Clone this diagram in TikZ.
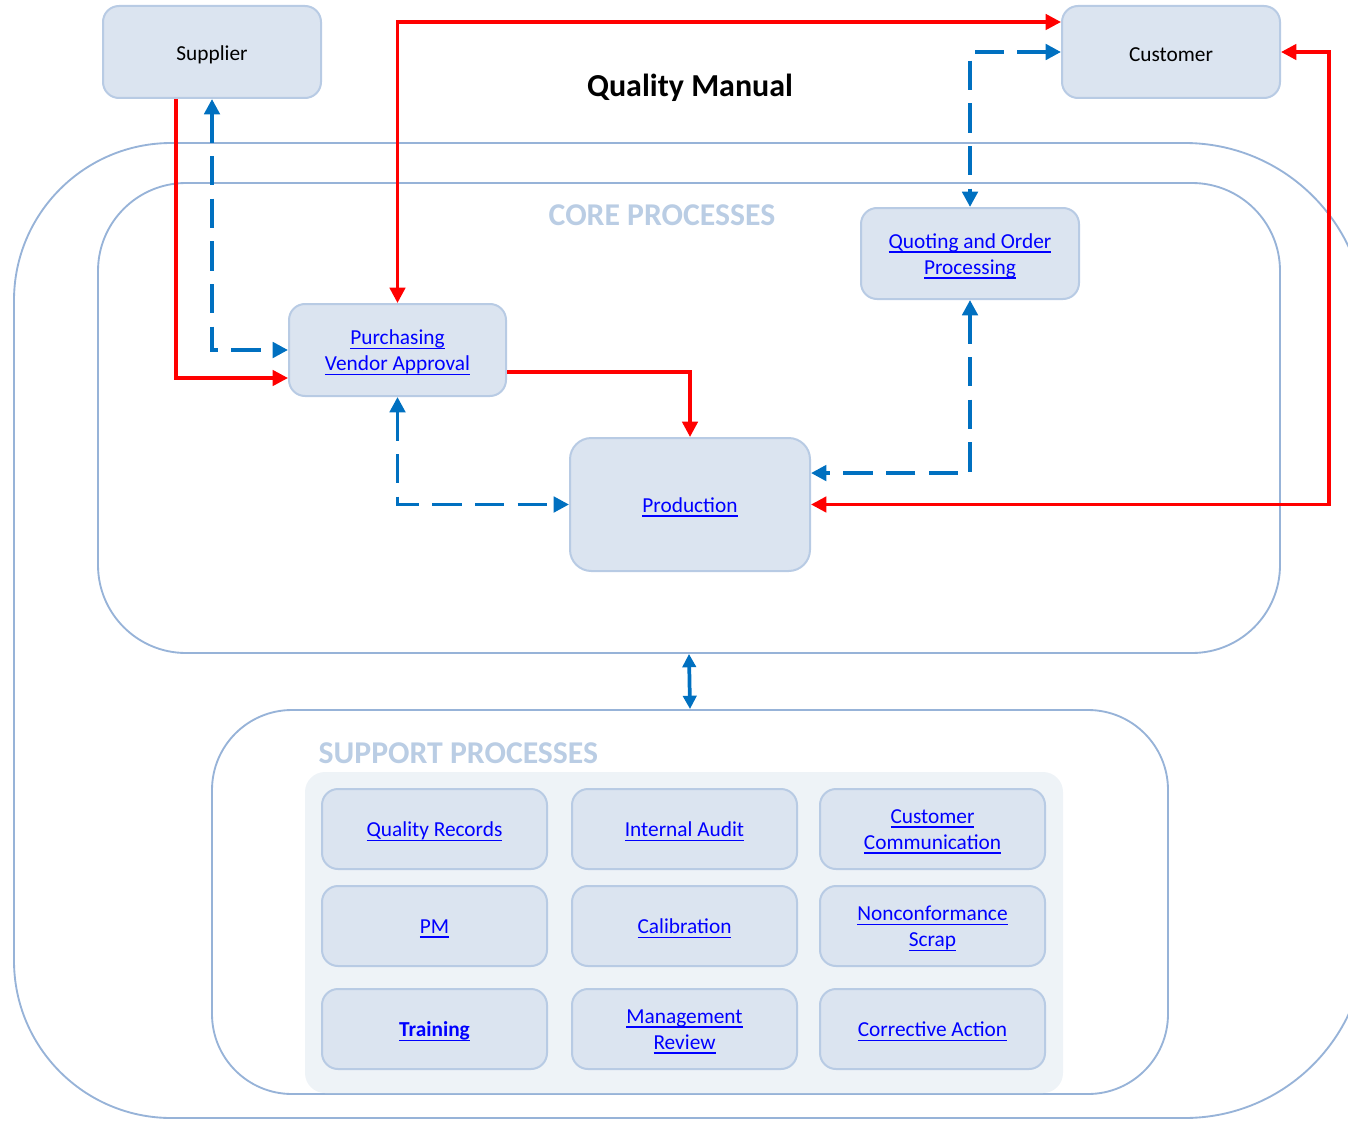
\documentclass[tikz,border=0pt]{standalone}
\usepackage{fontspec}
\setmainfont{Carlito}
\usetikzlibrary{arrows.meta}

\definecolor{boxfill}{HTML}{DBE4F0}
\definecolor{boxline}{HTML}{B8CBE4}
\definecolor{contline}{HTML}{97B3D8}
\definecolor{panelfill}{HTML}{EEF3F7}
\definecolor{headcol}{HTML}{BACDE4}
\definecolor{linkcol}{HTML}{0000FF}
\definecolor{flowblue}{HTML}{0070C0}
\definecolor{flowred}{HTML}{FF0000}

% underlined link text at a fixed rule depth, set slightly low without changing its box
\newsavebox\lnkbox
\newcommand\ulink[1]{\sbox\lnkbox{#1}\rlap{\rule[-3.3pt]{\wd\lnkbox}{1.1pt}}\usebox\lnkbox}
\newcommand\lnk[1]{\raisebox{-2pt}[\height][\depth]{\ulink{#1}}}
\newcommand\plain[1]{\raisebox{-2pt}[\height][\depth]{#1}}

\tikzset{
  procbox/.style={draw=boxline, fill=boxfill, line width=1.5pt,
    rounded corners=12pt, align=center, inner sep=0pt,
    font=\fontsize{16}{19.5}\selectfont},
  linkbox/.style={procbox, text=linkcol},
  container/.style={draw=contline, line width=1.4pt, inner sep=0pt},
  heading/.style={text=headcol, font=\fontsize{23.8}{26}\selectfont\bfseries},
  redflow/.style={draw=flowred, line width=2.6pt,
    {Triangle[length=11.5pt,width=11.5pt]}-{Triangle[length=11.5pt,width=11.5pt]}},
  redone/.style={draw=flowred, line width=2.6pt,
    -{Triangle[length=11.5pt,width=11.5pt]}},
  blueflow/.style={draw=flowblue, line width=2.8pt, dash pattern=on 22pt off 10pt,
    {Triangle[length=11.5pt,width=11.5pt]}-{Triangle[length=11.5pt,width=11.5pt]}},
  bluesolid/.style={draw=flowblue, line width=2.8pt,
    {Triangle[length=10pt,width=10pt]}-{Triangle[length=10pt,width=10pt]}},
}

\begin{document}
\begin{tikzpicture}[x=0.75pt,y=-0.75pt]
\useasboundingbox (0,0) rectangle (1348,1120);

% outer quality-manual frame, running past the right edge
\begin{scope}
  \clip (0,0) rectangle (1348,1120);
  \draw[draw=contline, line width=1.4pt]
    (14,640) [rounded corners=118pt] -- (14,143) -- (700,143)
    [rounded corners=136pt] -- (1366,143) -- (1366,1118) -- (700,1118)
    [rounded corners=118pt] -- (14,1118) [sharp corners] -- (14,640);
\end{scope}

% containers
\node[container, rounded corners=66pt, minimum width=886.5pt, minimum height=352.5pt]
  (core) at (689,418) {};
\node[container, rounded corners=60pt, minimum width=717pt, minimum height=288pt]
  (supp) at (690,902) {};
\node[fill=panelfill, rounded corners=15pt, inner sep=0pt,
  minimum width=568.5pt, minimum height=240.75pt] (panel) at (684,932.5) {};

% titles
\node[font=\fontsize{24}{28}\selectfont\bfseries] (title) at (690,88) {Quality Manual};
\node[heading] (corehead) at (662,215) {CORE PROCESSES};
\node[heading, anchor=west] (supphead) at (314,753) {SUPPORT PROCESSES};

% external parties
\node[procbox, minimum width=163.5pt, minimum height=69pt] (sup) at (212,52) {\plain{Supplier}};
\node[procbox, minimum width=163.5pt, minimum height=69pt] (cust) at (1171,52) {\plain{Customer}};

% core processes
\node[linkbox, minimum width=163.5pt, minimum height=68.25pt] (quo) at (970,253.5)
  {\lnk{Quoting and Order}\\\lnk{Processing}};
\node[linkbox, minimum width=162.75pt, minimum height=69pt] (pur) at (397.5,350)
  {\lnk{Purchasing}\\\lnk{Vendor Approval}};
\node[linkbox, minimum width=180pt, minimum height=99.75pt, rounded corners=16pt]
  (prod) at (690,504.5) {\lnk{Production}};

% support processes
\tikzset{gridbox/.style={linkbox, minimum width=168.75pt, minimum height=60pt}}
\node[gridbox] (qrec) at (434.5,829) {\lnk{Quality Records}};
\node[gridbox] (iaud) at (684.5,829) {\lnk{Internal Audit}};
\node[gridbox] (ccom) at (932.5,829) {\lnk{Customer}\\\lnk{Communication}};
\node[gridbox] (pm)   at (434.5,926) {\lnk{PM}};
\node[gridbox] (cal)  at (684.5,926) {\lnk{Calibration}};
\node[gridbox] (ncs)  at (932.5,926) {\lnk{Nonconformance}\\\lnk{Scrap}};
\node[gridbox] (trn)  at (434.5,1029) {\textbf{\lnk{Training}}};
\node[gridbox] (mrev) at (684.5,1029) {\lnk{Management}\\\lnk{Review}};
\node[gridbox] (corr) at (932.5,1029) {\lnk{Corrective Action}};

% material / order flows
\draw[redone] ([xshift=-27pt]sup.south) |- ([yshift=-21pt]pur.west);
\draw[redflow] (pur.north) |- ([yshift=22.5pt]cust.west);
\draw[redone] ([yshift=-16.5pt]pur.east) -| (prod.north);
\draw[redflow] (cust.east) -- ++(48,0) |- (prod.east);

% information flows
\draw[blueflow] (sup.south) |- (pur.west);
\draw[blueflow] (cust.west) -| (quo.north);
\draw[blueflow] (quo.south) |- ([yshift=23.6pt]prod.east);
\draw[blueflow] (pur.south) |- (prod.west);
\draw[bluesolid] (core.south) -- (supp.north);
\end{tikzpicture}
\end{document}
